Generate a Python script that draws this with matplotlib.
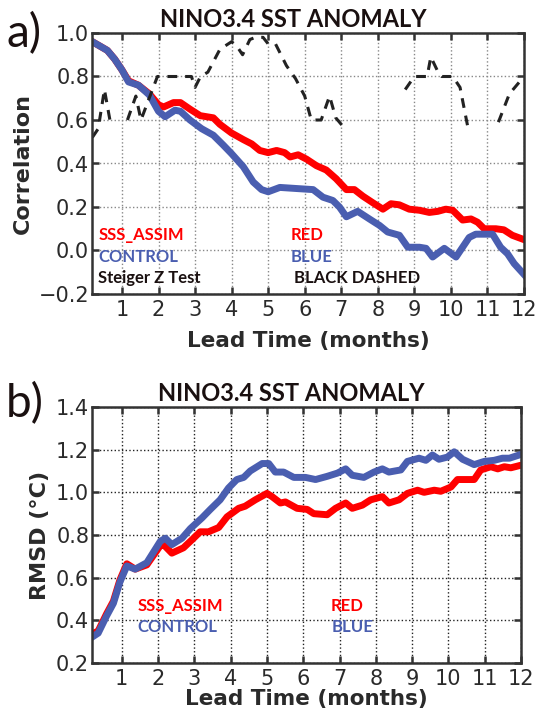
import matplotlib
matplotlib.use("Agg")
import matplotlib.pyplot as plt
import numpy as np

# === Data ===
# a) correlation
corr_x_red = [0.19, 0.6, 0.8, 1.0, 1.18, 1.45, 1.75, 2.0, 2.14, 2.41, 2.6, 2.86, 3.14, 3.5,
              3.68, 4.0, 4.32, 4.55, 4.77, 5.0, 5.23, 5.45, 5.6, 5.82, 6.05, 6.32, 6.59,
              6.86, 7.14, 7.36, 7.59, 7.86, 8.14, 8.36, 8.59, 8.86, 9.14, 9.41, 9.64,
              9.86, 10.05, 10.32, 10.55, 10.73, 10.91, 11.23, 11.45, 11.68, 12.0]
corr_red = [0.96, 0.92, 0.88, 0.83, 0.78, 0.76, 0.72, 0.67, 0.66, 0.68, 0.68, 0.65, 0.62, 0.61,
            0.58, 0.54, 0.51, 0.49, 0.46, 0.45, 0.46, 0.45, 0.43, 0.44, 0.42, 0.39, 0.37,
            0.33, 0.28, 0.28, 0.25, 0.22, 0.19, 0.215, 0.21, 0.19, 0.185, 0.175, 0.18,
            0.19, 0.185, 0.14, 0.145, 0.13, 0.10, 0.10, 0.095, 0.07, 0.05]

corr_x_blue = [0.19, 0.6, 0.8, 1.0, 1.18, 1.45, 1.75, 2.0, 2.18, 2.45, 2.6, 2.86, 3.18, 3.5,
               3.77, 4.0, 4.32, 4.59, 4.82, 5.0, 5.32, 5.77, 6.23, 6.5, 6.77, 6.95, 7.14,
               7.45, 7.77, 8.05, 8.27, 8.59, 8.82, 9.14, 9.32, 9.5, 9.82, 10.14, 10.5,
               10.68, 11.14, 11.36, 11.55, 11.73, 12.0]
corr_blue = [0.96, 0.92, 0.88, 0.83, 0.775, 0.76, 0.715, 0.64, 0.615, 0.645, 0.64, 0.60, 0.56,
             0.53, 0.485, 0.445, 0.385, 0.315, 0.28, 0.27, 0.29, 0.285, 0.28, 0.245, 0.23,
             0.20, 0.155, 0.18, 0.145, 0.115, 0.085, 0.07, 0.015, 0.015, 0.01, -0.03, 0.01,
             -0.03, 0.06, 0.075, 0.075, 0.015, -0.015, -0.06, -0.11]

# Steiger Z test (gaps where not shown)
steiger_x = [0.19, 0.35, 0.52, 0.67, 0.8, 1.15, 1.38, 1.52, 1.7, 1.97, 2.9, 3.0, 3.15, 3.35,
             3.68, 4.0, 4.14, 4.3, 4.5, 4.65, 4.86, 5.0, 5.2, 5.32, 5.5, 5.75, 6.0, 6.18,
             6.45, 6.68, 6.85, 7.1, 7.3, 8.75, 9.0, 9.35, 9.45, 9.65, 9.75, 10.05, 10.25,
             10.46, 10.8, 11.3, 11.6, 12.0]
steiger = [0.52, 0.56, 0.74, 0.6, np.nan, 0.6, 0.71, 0.6, 0.68, 0.8, 0.8, 0.75, 0.8, 0.82,
           0.925, 0.96, 0.94, 0.9, 0.97, 0.98, 0.98, 0.95, 0.95, 0.91, 0.85, 0.79, 0.71, 0.6,
           0.6, 0.71, 0.61, 0.56, np.nan, 0.74, 0.8, 0.8, 0.89, 0.82, 0.8, 0.8, 0.75,
           0.57, np.nan, 0.59, 0.72, 0.8]

# b) RMSD
rmsd_x_blue = [0.17, 0.35, 0.58, 0.77, 0.95, 1.14, 1.37, 1.69, 2.06, 2.20, 2.38, 2.66, 2.89,
               3.21, 3.44, 3.71, 3.94, 4.17, 4.36, 4.54, 4.87, 5.05, 5.23, 5.46, 5.74, 6.06,
               6.34, 6.66, 6.94, 7.17, 7.35, 7.67, 7.95, 8.18, 8.36, 8.69, 8.87, 9.19, 9.38,
               9.56, 9.74, 9.97, 10.16, 10.39, 10.71, 10.99, 11.26, 11.49, 11.68, 11.95]
rmsd_blue = [0.32, 0.34, 0.42, 0.48, 0.58, 0.655, 0.64, 0.67, 0.77, 0.785, 0.755, 0.785, 0.83,
             0.88, 0.92, 0.965, 1.02, 1.06, 1.07, 1.10, 1.135, 1.135, 1.095, 1.095, 1.07, 1.07,
             1.06, 1.075, 1.09, 1.11, 1.08, 1.07, 1.095, 1.11, 1.095, 1.105, 1.145, 1.16,
             1.15, 1.175, 1.155, 1.165, 1.19, 1.155, 1.13, 1.145, 1.15, 1.16, 1.16, 1.175]

rmsd_x_red = [0.17, 0.35, 0.58, 0.77, 0.95, 1.14, 1.37, 1.69, 2.06, 2.15, 2.38, 2.7, 2.98,
              3.16, 3.39, 3.67, 3.9, 4.22, 4.4, 4.68, 5.0, 5.14, 5.37, 5.51, 5.83, 6.11,
              6.29, 6.66, 6.89, 7.17, 7.35, 7.63, 7.86, 8.18, 8.36, 8.64, 8.87, 9.15, 9.33,
              9.61, 9.79, 10.07, 10.25, 10.57, 10.71, 10.89, 11.17, 11.36, 11.54, 11.72, 11.95]
rmsd_red = [0.335, 0.35, 0.43, 0.49, 0.59, 0.665, 0.64, 0.66, 0.75, 0.755, 0.715, 0.74, 0.785,
            0.815, 0.815, 0.835, 0.885, 0.925, 0.935, 0.965, 0.995, 0.98, 0.95, 0.955, 0.925,
            0.92, 0.90, 0.895, 0.925, 0.95, 0.925, 0.94, 0.965, 0.98, 0.95, 0.965, 0.995,
            1.01, 1.0, 1.01, 1.005, 1.025, 1.06, 1.06, 1.06, 1.105, 1.12, 1.11, 1.12, 1.115,
            1.125]

months = list(range(1, 13))

# === Style ===
RED = "#ff0000"
BLUE = "#4a5eb0"
SPINE = "#333333"
TXT = "#2a2a2a"
TITLE_FONT = "Lato"

fig = plt.figure(figsize=(5.37, 7.15), dpi=100)
ax_a = fig.add_axes([92 / 537, 1 - 294 / 715, 432 / 537, 261 / 715])
ax_b = fig.add_axes([92 / 537, 1 - 663 / 715, 429 / 537, 256 / 715])


def style_axes(ax, grid_color, xlabelpad):
    ax.set_xlim(0.18, 12)
    ax.set_xticks(months)
    ax.grid(True, linestyle=":", color=grid_color, linewidth=1.0)
    ax.tick_params(direction="in", length=5, width=1.8, top=True, right=True,
                   labelsize=15, labelcolor=TXT, color=SPINE)
    ax.tick_params(axis="x", pad=4)
    ax.tick_params(axis="y", pad=2)
    for s in ax.spines.values():
        s.set_color(SPINE)
        s.set_linewidth(1.8)
    ax.set_xlabel("Lead Time (months)", fontsize=15.5, fontweight="bold", color=TXT,
                  labelpad=xlabelpad)


# --- a) correlation ---
ax_a.plot(corr_x_red, corr_red, color=RED, lw=5, solid_joinstyle="round")
ax_a.plot(corr_x_blue, corr_blue, color=BLUE, lw=5, solid_joinstyle="round")
ax_a.plot(steiger_x, steiger, color="#222222", lw=2.2, linestyle=(0, (3.2, 2.6)))
ax_a.set_ylim(-0.2, 1.0)
ax_a.set_yticks(np.arange(-0.2, 1.01, 0.2))
ax_a.set_yticklabels(["\u22120.2", "0.0", "0.2", "0.4", "0.6", "0.8", "1.0"])
style_axes(ax_a, "#888888", 8)
ax_a.set_ylabel("Correlation", fontsize=16, fontweight="bold", color=TXT, labelpad=4)
ax_a.set_title("NINO3.4 SST ANOMALY", fontsize=17, fontweight="bold",
               family=TITLE_FONT, color="#1a1010", pad=4, x=0.465)

ann = dict(fontsize=12, fontweight="bold", family=TITLE_FONT, va="center")
ax_a.text(0.35, 0.073, "SSS_ASSIM", color=RED, **ann)
ax_a.text(0.35, -0.03, "CONTROL", color=BLUE, **ann)
ax_a.text(0.35, -0.125, "Steiger Z Test", color="#1a1010", **ann)
ax_a.text(5.62, 0.073, "RED", color=RED, **ann)
ax_a.text(5.62, -0.03, "BLUE", color=BLUE, **ann)
ax_a.text(5.72, -0.125, "BLACK DASHED", color="#1a1010", **ann)

# --- b) RMSD ---
ax_b.plot(rmsd_x_red, rmsd_red, color=RED, lw=5, solid_joinstyle="round")
ax_b.plot(rmsd_x_blue, rmsd_blue, color=BLUE, lw=5, solid_joinstyle="round")
ax_b.set_ylim(0.2, 1.4)
ax_b.set_yticks(np.arange(0.2, 1.41, 0.2))
ax_b.set_yticklabels(["0.2", "0.4", "0.6", "0.8", "1.0", "1.2", "1.4"])
style_axes(ax_b, "#222222", 0)
ax_b.set_ylabel("RMSD (\u00b0C)", fontsize=16, fontweight="bold", color=TXT, labelpad=4)
ax_b.set_title("NINO3.4 SST ANOMALY", fontsize=17, fontweight="bold",
               family=TITLE_FONT, color="#1a1010", pad=4, x=0.465)
ax_b.text(1.44, 0.468, "SSS_ASSIM", color=RED, **ann)
ax_b.text(1.44, 0.37, "CONTROL", color=BLUE, **ann)
ax_b.text(6.75, 0.468, "RED", color=RED, **ann)
ax_b.text(6.78, 0.37, "BLUE", color=BLUE, **ann)

# panel letters
fig.text(6 / 537, 1 - 34 / 715, "a)", fontsize=33, family=TITLE_FONT, color="#1a1010",
         va="center")
fig.text(6 / 537, 1 - 404 / 715, "b)", fontsize=33, family=TITLE_FONT, color="#1a1010",
         va="center")

fig.savefig("out.png", dpi=100)
